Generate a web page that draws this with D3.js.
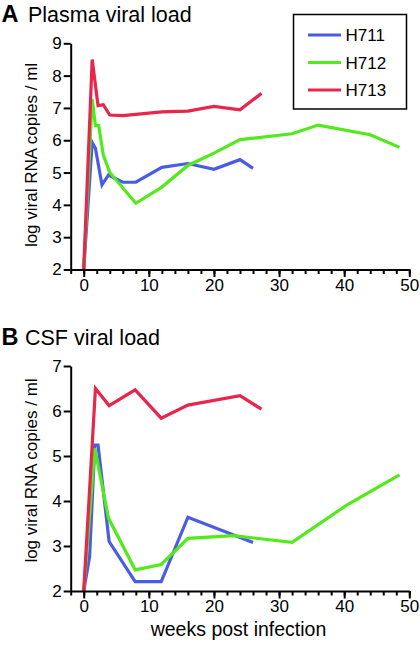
<!DOCTYPE html>
<html><head><meta charset="utf-8">
<script src="https://cdn.jsdelivr.net/npm/d3@7"></script>
<style>body{margin:0;background:#fff}svg{display:block;font-family:"Liberation Sans",Arial,sans-serif}</style>
</head><body>
<svg id="c" width="420" height="645"></svg>
<script>
const seriesNames = ["H711","H712","H713"];
const colors = ["#4a5ce6","#52ea1c","#e8264b"];
const xTicks = [0,10,20,30,40,50];
const xMinorTicks = d3.range(-2, 51, 2);
const yTicksA = [2,3,4,5,6,7,8,9];
const yTicksB = [2,3,4,5,6,7];

// Plasma viral load [weeks, log copies]
const plasmaH711 = [[0,2],[1.3,5.93],[1.8,5.75],[2.8,4.62],[3.8,4.92],[6,4.7],[8,4.7],[12,5.16],[16,5.28],[20,5.1],[24,5.4],[26,5.13]];
const plasmaH712 = [[0,2],[1.3,7.27],[1.8,6.45],[2.3,6.45],[3,5.55],[4,5.0],[8,4.05],[12,4.55],[16,5.22],[20,5.6],[24,6.02],[32,6.2],[36,6.47],[44,6.17],[48.5,5.78]];
const plasmaH713 = [[0,2],[1.3,8.5],[2.2,7.07],[3,7.1],[4,6.78],[6,6.76],[12,6.88],[16,6.9],[20,7.05],[24,6.94],[27.3,7.45]];
// CSF viral load
const csfH711 = [[0,2],[0.9,2.76],[1.7,5.24],[2.2,5.24],[3.9,3.1],[7.9,2.21],[11.9,2.21],[16,3.64],[26,3.08]];
const csfH712 = [[0,2],[1.7,5.17],[3.8,3.62],[7.9,2.47],[11.9,2.59],[16,3.17],[23,3.23],[32,3.08],[40.4,3.91],[48.5,4.58]];
const csfH713 = [[0,2],[1.8,6.5],[3.9,6.12],[7.9,6.47],[11.9,5.84],[16,6.13],[24,6.34],[27.3,6.04]];

const svg = d3.select("#c");
const x = d3.scaleLinear().domain([-2,50]).range([70.7,409.3]);
const FONT = "Liberation Sans, Arial, sans-serif";

function panel(letter, title, titleY, y, yTicks, data, axisBottomY, yLabelCenter){
  // title
  svg.append("text").attr("x",1.5).attr("y",titleY).attr("font-size",23.5)
    .attr("font-weight","bold").text(letter);
  svg.append("text").attr("x",letter==="A"?28:25).attr("y",titleY).attr("font-size",21.5).text(title);

  // lines
  const line = d3.line().x(d=>x(d[0])).y(d=>y(d[1]));
  data.forEach((s,i)=>{
    svg.append("path").attr("d",line(s)).attr("fill","none")
      .attr("stroke",colors[i]).attr("stroke-width",3.2)
      .attr("stroke-linejoin","miter").attr("stroke-linecap","butt");
  });

  // x axis: minor ticks
  const gx = svg.append("g").attr("transform",`translate(0,${axisBottomY})`);
  gx.call(d3.axisBottom(x).tickValues(xMinorTicks).tickSize(4.5).tickFormat("").tickSizeOuter(0));
  gx.selectAll("path,line").attr("stroke","#000").attr("stroke-width",2);
  // x axis: major ticks + labels
  const gx2 = svg.append("g").attr("transform",`translate(0,${axisBottomY})`);
  gx2.call(d3.axisBottom(x).tickValues(xTicks).tickSize(7.5).tickPadding(1.5).tickSizeOuter(0));
  gx2.select(".domain").remove();
  gx2.selectAll("line").attr("stroke","#000").attr("stroke-width",2);
  gx2.selectAll("text").attr("font-size",17).attr("fill","#000").attr("font-family",FONT);

  // y axis
  const gy = svg.append("g").attr("transform",`translate(${x(-2)},0)`);
  gy.call(d3.axisLeft(y).tickValues(yTicks).tickSize(7).tickPadding(2).tickFormat(d3.format("d")).tickSizeOuter(0));
  gy.selectAll("path,line").attr("stroke","#000").attr("stroke-width",2);
  gy.selectAll("text").attr("font-size",17).attr("fill","#000").attr("font-family",FONT);

  // y label
  svg.append("text").attr("transform",`translate(37,${yLabelCenter}) rotate(-90)`)
    .attr("text-anchor","middle").attr("font-size",17).text("log viral RNA copies / ml");
}

const yA = d3.scaleLinear().domain([2,9]).range([269.5,43.3]);
const yB = d3.scaleLinear().domain([2,7]).range([591,366]);
panel("A","Plasma viral load",21.7,yA,yTicksA,[plasmaH711,plasmaH712,plasmaH713],269.5,155);
panel("B","CSF viral load",345,yB,yTicksB,[csfH711,csfH712,csfH713],591,470.5);

svg.append("text").attr("x",238.5).attr("y",636)
  .attr("text-anchor","middle").attr("font-size",19.5).text("weeks post infection");

// legend
const lg = svg.append("g");
lg.append("rect").attr("x",293.5).attr("y",14.5).attr("width",113).attr("height",94.5)
  .attr("fill","#fff").attr("stroke","#000").attr("stroke-width",1.5);
seriesNames.forEach((n,i)=>{
  const yy = 35 + i*27.5;
  lg.append("line").attr("x1",308).attr("x2",341).attr("y1",yy).attr("y2",yy)
    .attr("stroke",colors[i]).attr("stroke-width",3.2);
  lg.append("text").attr("x",345.5).attr("y",yy+6.2).attr("font-size",17).text(n);
});
</script>
</body></html>
